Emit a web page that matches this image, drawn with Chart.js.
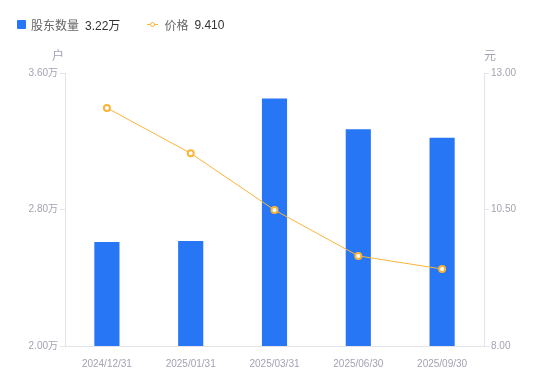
<!DOCTYPE html>
<html lang="zh">
<head>
  <meta charset="UTF-8">
  <title>股东数量与价格</title>
  <script src="https://cdn.jsdelivr.net/npm/chart.js"></script>
  <style>
    html, body { margin: 0; padding: 0; background: #fff; }
    body { width: 550px; height: 381px; position: relative; overflow: hidden; font-family: 'Liberation Sans', 'Noto Sans CJK SC', sans-serif; }
    #chart { position: absolute; left: 0; top: 0; }
    .legend { position: absolute; top: 16px; left: 17px; font-size: 12px; color: #666; display: flex; align-items: center; white-space: nowrap; }
    .legend .item { display: flex; align-items: center; margin-right: 27px; }
    .legend .sq { width: 9px; height: 9px; background: #2676f5; border-radius: 1px; margin-right: 5px; }
    .legend .ln { position: relative; width: 11px; height: 9px; margin-right: 6px; }
    .legend .ln::before { content: ''; position: absolute; left: 0; right: 0; top: 4px; height: 1px; background: #fbb43a; }
    .legend .ln::after { content: ''; position: absolute; left: 3px; top: 2px; width: 3px; height: 3px; border: 1.5px solid #fbb43a; border-radius: 50%; background: #fff; }
    .legend .val { color: #333; margin-left: 6px; }
  </style>
</head>
<body>
<canvas id="chart" width="550" height="381"></canvas>
<div class="legend">
  <div class="item"><span class="sq"></span>股东数量<span class="val">3.22万</span></div>
  <div class="item"><span class="ln"></span>价格<span class="val">9.410</span></div>
</div>
<script>
const dates = ["2024/12/31", "2025/01/31", "2025/03/31", "2025/06/30", "2025/09/30"];
const holders = [2.61, 2.615, 3.45, 3.27, 3.22];   // 万户
const prices = [12.36, 11.53, 10.49, 9.65, 9.41];  // 元
const leftTicks = [2.0, 2.8, 3.6];
const rightTicks = [8.0, 10.5, 13.0];

const tickColor = '#a3a3b3';
const axisColor = '#e3e3e8';
const lineColor = '#fbb43a';
const fontFamily = '"Liberation Sans", "Noto Sans CJK SC", sans-serif';

const axisTitles = {
  id: 'axisTitles',
  afterDraw(chart) {
    const ctx = chart.ctx;
    const area = chart.chartArea;
    ctx.save();
    ctx.fillStyle = tickColor;
    ctx.font = '12px ' + fontFamily;
    ctx.textBaseline = 'middle';
    ctx.textAlign = 'center';
    ctx.fillText('户', area.left - 7, area.top - 16);
    ctx.fillText('元', area.right + 6, area.top - 16);
    ctx.restore();
  }
};

new Chart(document.getElementById('chart'), {
  data: {
    labels: dates,
    datasets: [
      {
        type: 'line', label: '价格', data: prices, yAxisID: 'y1',
        borderColor: lineColor, borderWidth: 1, tension: 0,
        pointRadius: 3, pointBorderWidth: 2, pointBackgroundColor: '#fff', pointBorderColor: lineColor,
        order: 0
      },
      {
        type: 'bar', label: '股东数量', data: holders, yAxisID: 'y',
        backgroundColor: '#2676f5', barPercentage: 0.6, categoryPercentage: 0.5,
        order: 1
      }
    ]
  },
  options: {
    responsive: false,
    animation: false,
    font: { family: fontFamily },
    layout: { padding: { top: 73, left: 0, right: 0, bottom: 0 } },
    plugins: { legend: { display: false }, tooltip: { enabled: false } },
    scales: {
      x: {
        grid: { display: false },
        border: { color: axisColor },
        ticks: { color: tickColor, font: { size: 10, family: fontFamily }, padding: 4, maxRotation: 0 },
        afterFit(s) { s.height = 35; }
      },
      y: {
        position: 'left', min: 2.0, max: 3.6,
        afterBuildTicks(s) { s.ticks = leftTicks.map(v => ({ value: v })); },
        grid: { drawOnChartArea: false, color: axisColor, tickLength: 5 },
        border: { color: axisColor },
        ticks: { color: tickColor, font: { size: 10, family: fontFamily }, padding: 2, callback: v => v.toFixed(2) + '万' },
        afterFit(s) { s.width = 65; }
      },
      y1: {
        position: 'right', min: 8, max: 13,
        afterBuildTicks(s) { s.ticks = rightTicks.map(v => ({ value: v })); },
        grid: { drawOnChartArea: false, color: axisColor, tickLength: 5 },
        border: { color: axisColor },
        ticks: { color: tickColor, font: { size: 10, family: fontFamily }, padding: 2, callback: v => v.toFixed(2) },
        afterFit(s) { s.width = 66; }
      }
    }
  },
  plugins: [axisTitles]
});
</script>
</body>
</html>
